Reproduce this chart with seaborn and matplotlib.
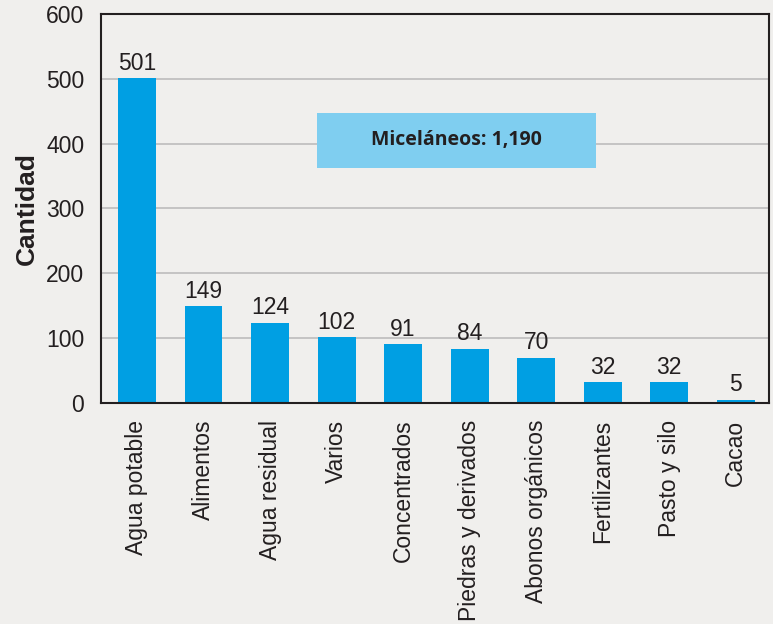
import matplotlib
matplotlib.use("Agg")
import matplotlib.pyplot as plt
import seaborn as sns
import pandas as pd
from matplotlib.patches import Rectangle

categories = ["Agua potable", "Alimentos", "Agua residual", "Varios", "Concentrados",
              "Piedras y derivados", "Abonos orgánicos", "Fertilizantes", "Pasto y silo", "Cacao"]
values = [501, 149, 124, 102, 91, 84, 70, 32, 32, 5]
yticks = [0, 100, 200, 300, 400, 500, 600]
box_text = "Miceláneos: 1,190"

sns.set_theme(style="white")
plt.rcParams["font.family"] = ["Liberation Sans", "DejaVu Sans"]

bg = "#f0efed"
fig = plt.figure(figsize=(7.73, 6.24), dpi=100, facecolor=bg)
ax = fig.add_axes([0.1307, 0.3542, 0.8641, 0.6234])
ax.set_facecolor(bg)

df = pd.DataFrame({"cat": categories, "val": values})
sns.barplot(data=df, x="cat", y="val", color="#009fe3", saturation=1, width=0.57,
            linewidth=0, edgecolor="none", ax=ax, zorder=2)

ax.set_ylim(0, 600)
ax.set_xlim(-0.54, 9.5)
ax.set_yticks(yticks)
ax.set_yticklabels([str(t) for t in yticks], fontsize=16.5, color="#231f20")
ax.yaxis.grid(True, color="#b8b8b8", linewidth=1.1, zorder=0)
ax.set_axisbelow(True)
ax.tick_params(axis="x", labelrotation=90, labelsize=16.5, labelcolor="#231f20", length=0, pad=12)
ax.tick_params(axis="y", length=0, pad=12)
ax.set_xlabel("")
ax.set_ylabel("Cantidad", fontsize=19, fontweight="bold", color="#231f20", labelpad=5)
for s in ax.spines.values():
    s.set_color("#231f20")
    s.set_linewidth(1.5)

for i, v in enumerate(values):
    ax.text(i, v + 5, str(v), ha="center", va="bottom", fontsize=16.5, color="#231f20", zorder=4)

rect = Rectangle((2.706, 363), 4.19, 84, facecolor="#7fcef0", edgecolor="none", zorder=3)
ax.add_patch(rect)
ax.text(2.706 + 4.19 / 2, 405, box_text, ha="center", va="center", fontsize=14,
        fontweight="bold", color="#231f20", family=["Open Sans", "DejaVu Sans"], zorder=4)

fig.savefig("out.png", dpi=100, facecolor=bg)
